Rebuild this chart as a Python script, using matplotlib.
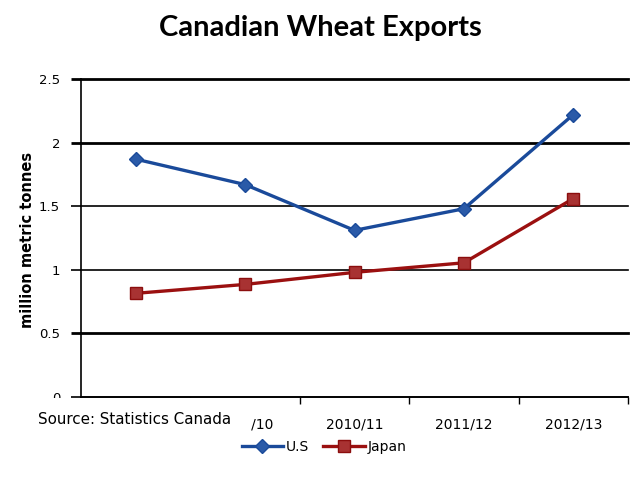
import matplotlib
matplotlib.use("Agg")
import matplotlib.pyplot as plt
from matplotlib.patches import Rectangle

categories = ["2008/09", "2009/10", "2010/11", "2011/12", "2012/13"]
us_values = [1.87, 1.67, 1.31, 1.48, 2.22]
japan_values = [0.815, 0.885, 0.98, 1.055, 1.56]
y_ticks = [0, 0.5, 1, 1.5, 2, 2.5]
y_tick_labels = ["0", "0.5", "1", "1.5", "2", "2.5"]

fig = plt.figure(figsize=(6.4, 4.8), dpi=100)
ax = fig.add_axes([81/640, 1-397/480, (628-81)/640, (397-79)/480])

x = list(range(len(categories)))
ax.plot(x, us_values, color="#1a4a9a", lw=2.4, marker="D", markersize=7,
        markerfacecolor="#2a5aa8", markeredgecolor="#1a4a9a", label="U.S", zorder=4)
ax.plot(x, japan_values, color="#9b1010", lw=2.4, marker="s", markersize=9,
        markerfacecolor="#a83232", markeredgecolor="#8b0e0e", label="Japan", zorder=4)

ax.set_xlim(-0.5, len(categories) - 0.5)
ax.set_ylim(0, 2.5)
ax.set_yticks(y_ticks)
ax.set_yticklabels(y_tick_labels, fontsize=9.5, family="DejaVu Sans")
ax.set_xticks(x)
ax.set_xticklabels(categories, fontsize=10, family="DejaVu Sans")
ax.set_xticks([i - 0.5 for i in x] + [len(categories) - 0.5], minor=True)
ax.tick_params(axis="x", which="major", length=0, pad=15)
ax.tick_params(axis="x", which="minor", length=5, width=1, direction="out")
ax.tick_params(axis="y", length=7, width=1, pad=8, direction="out")

ax.yaxis.grid(True, color="black")
for val, gl in zip(y_ticks, ax.yaxis.get_gridlines()):
    gl.set_linewidth(2.0 if val in (0.5, 2, 2.5) else 1.2)
    gl.set_clip_on(False)
for val, t in zip(y_ticks, ax.yaxis.get_major_ticks()):
    t.tick1line.set_markeredgewidth(2.0 if val in (0.5, 2, 2.5) else 1.2)
    t.gridline.set_clip_on(False)
ax.set_axisbelow(True)

for s in ["top", "right"]:
    ax.spines[s].set_visible(False)
ax.spines["left"].set_linewidth(1.2)
ax.spines["bottom"].set_linewidth(1.2)

ax.set_ylabel("million metric tonnes", fontsize=10.5, fontweight="bold", family="DejaVu Sans")
ax.yaxis.set_label_coords(-(81-35)/547, 0.5 + (397-79)/2/318 - (240-79)/318)

fig.text(320/640, 1-28/480, "Canadian Wheat Exports", ha="center", va="center",
         fontsize=21, fontweight="bold", family="Lato")

fig.patches.append(Rectangle((30/640, 1-440/480), 221/640, 42/480,
                             transform=fig.transFigure, facecolor="white",
                             edgecolor="none", zorder=10))
fig.text(38/640, 1-419/480, "Source: Statistics Canada", ha="left", va="center",
         fontsize=10.9, family="DejaVu Sans", zorder=11)

fig.legend(loc="center", bbox_to_anchor=(324/640, 1-447/480), ncol=2, frameon=False,
           handlelength=3, handletextpad=0.2, columnspacing=1.0,
           prop={"family": "DejaVu Sans", "size": 10})

fig.savefig("out.png", dpi=100)
